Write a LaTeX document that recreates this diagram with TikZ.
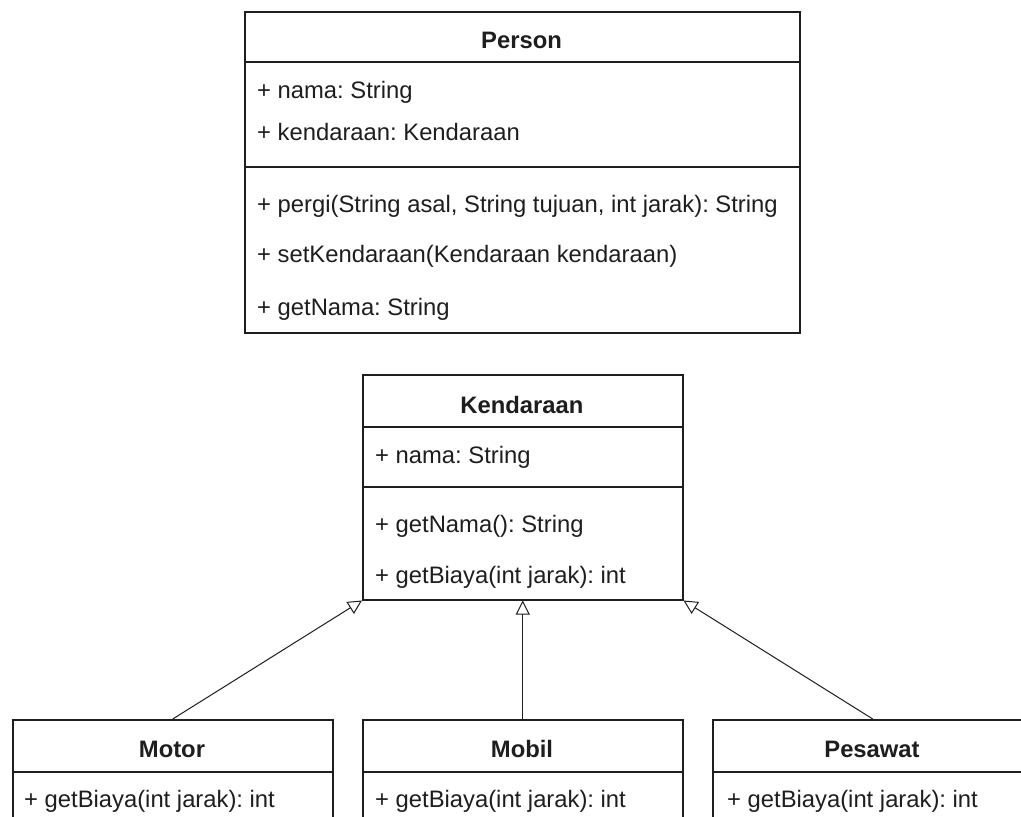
\documentclass[tikz,border=0pt]{standalone}
\usepackage{fontspec}
\setmainfont{Liberation Sans}
\usetikzlibrary{arrows.meta}
\definecolor{ink}{HTML}{1E1E1E}
\frenchspacing
\begin{document}
\begin{tikzpicture}[x=1pt,y=-1pt,
  classbox/.style={draw=ink, line width=1.5pt, fill=white, inner sep=0pt, anchor=north west},
  sepline/.style={draw=ink, line width=1.5pt},
  rowtext/.style={anchor=base west, inner sep=0pt, text=ink, font=\fontsize{23.8}{28}\selectfont},
  titletext/.style={anchor=base, inner sep=0pt, text=ink, font=\fontsize{23.8}{28}\selectfont\bfseries},
  inherit/.style={draw=ink, line width=1pt, -{Triangle[length=14pt, width=14pt, fill=white, line width=1pt]}}
]
\useasboundingbox (0,0) rectangle (1021,817);
\fill[white] (0,0) rectangle (1021,817);
\clip (0,0) rectangle (1021,817);

% Person
\node[classbox, minimum width=555pt, minimum height=321pt] (person) at (244,11) {};
\draw[sepline] (244,62) -- (799,62);
\draw[sepline] (244,167) -- (799,167);
\node[titletext] (ptitle) at (521.5,48) {Person};
\node[rowtext] (p1) at (257,98) {+ nama: String};
\node[rowtext] (p2) at (257,140) {+ kendaraan: Kendaraan};
\node[rowtext] (p3) at (257,212) {+ pergi(String asal, String tujuan, int jarak): String};
\node[rowtext] (p4) at (257,262) {+ setKendaraan(Kendaraan kendaraan)};
\node[rowtext] (p5) at (257,315) {+ getNama: String};

% Kendaraan
\node[classbox, minimum width=320pt, minimum height=225pt] (kend) at (362,374) {};
\draw[sepline] (362,427) -- (682,427);
\draw[sepline] (362,487) -- (682,487);
\node[titletext] (ktitle) at (522,413) {Kendaraan};
\node[rowtext] (k1) at (375,463) {+ nama: String};
\node[rowtext] (k2) at (375,532) {+ getNama(): String};
\node[rowtext] (k3) at (375,583) {+ getBiaya(int jarak): int};

% Motor
\node[classbox, minimum width=320pt, minimum height=140pt] (motor) at (12,719) {};
\draw[sepline] (12,772) -- (332,772);
\node[titletext] (mtitle) at (172,757) {Motor};
\node[rowtext] (m1) at (24,807) {+ getBiaya(int jarak): int};

% Mobil
\node[classbox, minimum width=320pt, minimum height=140pt] (mobil) at (362,719) {};
\draw[sepline] (362,772) -- (682,772);
\node[titletext] (btitle) at (522,757) {Mobil};
\node[rowtext] (b1) at (375,807) {+ getBiaya(int jarak): int};

% Pesawat
\node[classbox, minimum width=320pt, minimum height=140pt] (pesawat) at (712,719) {};
\draw[sepline] (712,772) -- (1032,772);
\node[titletext] (stitle) at (872,757) {Pesawat};
\node[rowtext] (s1) at (727,807) {+ getBiaya(int jarak): int};

% Generalisation arrows
\draw[inherit] (motor.north) -- (kend.south west);
\draw[inherit] (mobil.north) -- (kend.south);
\draw[inherit] (pesawat.north) -- (kend.south east);
\end{tikzpicture}
\end{document}
